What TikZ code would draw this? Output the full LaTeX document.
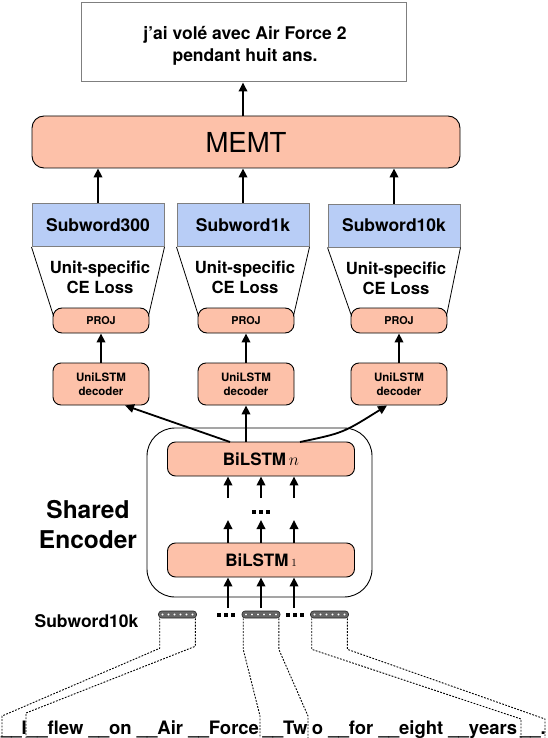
\documentclass[tikz,border=0pt]{standalone}
\usepackage{fontspec}
\setmainfont{TeX Gyre Heros}
\usetikzlibrary{arrows.meta,calc}
\definecolor{salmon}{HTML}{FDC1A9}
\definecolor{lblue}{HTML}{B8CDF6}
\definecolor{boxgray}{HTML}{7F7F7F}
\newcommand{\myfs}[2]{\fontsize{#1}{#2}\selectfont}
\begin{document}
\begin{tikzpicture}[x=1pt,y=-1pt,
  sal/.style={draw=black, line width=0.9pt, fill=salmon, inner sep=0pt, align=center},
  outbox/.style={draw=boxgray, line width=1pt, fill=white, minimum width=325, minimum height=79, align=center, inner sep=0pt},
  sub/.style={draw=boxgray, line width=1pt, fill=lblue, minimum width=132, minimum height=43, inner sep=0pt, font=\bfseries\myfs{17.5}{20}},
  projbox/.style={sal, rounded corners=9, minimum width=96, minimum height=25, font=\bfseries\myfs{10.8}{12}},
  unibox/.style={sal, rounded corners=8, minimum width=96, minimum height=42, font=\bfseries\myfs{11.5}{14}},
  bilbox/.style={sal, rounded corners=8, minimum width=187, minimum height=34, font=\bfseries\myfs{17}{20}},
  losstext/.style={align=center, font=\bfseries\myfs{16.7}{20}, inner sep=0pt},
  arr/.style={-{Triangle[length=9pt,width=8.5pt]}, line width=1.8pt},
  dsh/.style={line width=0.9pt, dash pattern=on 1.8pt off 1.4pt},
  emb/.style={draw=black!85, line width=0.6pt, fill=black!60, rounded corners=3, minimum width=38, minimum height=7, inner sep=0pt,
    path picture={\foreach \i in {-2.5,-1.5,...,2.5} \filldraw[fill=white,draw=black!70,line width=0.3pt] ($(path picture bounding box.center)+(\i*6pt,0pt)$) circle (1.6pt);}},
  word/.style={anchor=base, inner sep=0pt, font=\bfseries\myfs{18.5}{20}}
]
\useasboundingbox (0,0) rectangle (548,738);

% output
\node[outbox] (out) at (243.5,42.5) {};
\node[align=center, inner sep=0pt, font=\bfseries\myfs{17.5}{22}] (outtxt) at (245,46) {j’ai volé avec Air Force 2\\pendant huit ans.};
\node[sal, rounded corners=12, minimum width=428, minimum height=52, font=\myfs{27.5}{30}] (memt) at (246,142) {MEMT};
\coordinate (topa) at (243,116.5);
\draw[arr] (topa) -- (topa |- out.south);

% subword boxes
\node[sub] (s300) at (98,225) {Subword300};
\node[sub] (s1k) at (243,225) {Subword1k};
\node[sub] (s10k) at (394,225.5) {Subword10k};
\foreach \s in {s300,s1k,s10k} \draw[arr] (\s.north) -- (\s.north |- memt.south);

% proj and decoders
\node[projbox] (p300) at (101,320.5) {PROJ};
\node[projbox] (p1k) at (246,320.5) {PROJ};
\node[projbox] (p10k) at (399,320.5) {PROJ};
\node[unibox] (u300) at (101,384) {UniLSTM\\decoder};
\node[unibox] (u1k) at (246,384) {UniLSTM\\decoder};
\node[unibox] (u10k) at (399,384) {UniLSTM\\decoder};
\node[losstext] (l300) at (100,277) {Unit-specific\\CE Loss};
\node[losstext] (l1k) at (245,277) {Unit-specific\\CE Loss};
\node[losstext] (l10k) at (396,278) {Unit-specific\\CE Loss};
\foreach \s/\p/\u in {s300/p300/u300,s1k/p1k/u1k,s10k/p10k/u10k}{
  \draw[line width=0.8pt] (\s.south west) -- ($(\p.west)+(1,-4.5)$);
  \draw[line width=0.8pt] (\s.south east) -- ($(\p.east)+(-1,-4.5)$);
  \draw[arr] (\u.north) -- (\p.south);
}

% encoder
\node[draw, line width=0.9pt, rounded corners=28, minimum width=225, minimum height=169, inner sep=0pt] (enc) at (259.5,512.5) {};
\node[align=center, font=\bfseries\myfs{24.5}{30}, inner sep=0pt] (enclab) at (88,525) {Shared\\Encoder};
\node[bilbox] (bn) at (261,459) {BiLSTM\,$n$};
\node[bilbox] (b1) at (261,560) {BiLSTM\,{\myfs{11}{12}$1$}};

\foreach \x [count=\i] in {228,261,294}{
  \coordinate (ua\i) at (\x,498);
  \coordinate (la\i) at (\x,520);
  \coordinate (ba\i) at (\x,608);
  \draw[arr] (ua\i) -- (ua\i |- bn.south);
  \draw[arr] (la\i |- b1.north) -- (la\i);
  \draw[arr] (ba\i) -- (ba\i |- b1.south);
}
% dots
\coordinate (d0) at (261,512);
\coordinate (d1) at (226,615);
\coordinate (d2) at (295,615);
\foreach \d in {d0,d1,d2}
  \foreach \dx in {-7,0,7}
    \fill ($(\d)+(\dx-1.6,-1.6)$) rectangle +(3.2,3.2);

% encoder to decoders
\coordinate (e1) at (230,442);
\coordinate (e2) at (246,442);
\coordinate (e3) at (300,442);
\draw[arr] (e1) -- ($(u300.south)+(24,0)$);
\draw[arr] (e2) -- (u1k.south);
\draw[arr] (e3) .. controls (343,433) .. ($(u10k.south)+(-12,0)$);

% embeddings
\node[font=\bfseries\myfs{17.5}{20}, inner sep=0pt] (swlab) at (86.5,621) {Subword10k};
\node[emb] (w1) at (177.5,614.5) {};
\node[emb] (w2) at (261,614.5) {};
\node[emb] (w3) at (329.5,614.5) {};

% words
\node[word] (t1) at (14,734) {\_\_I};
\node[word] (t2) at (143,734) {\_\_flew \_\_on \_\_Air \_\_Force};
\node[word] (t3) at (285,734) {\_\_Tw};
\node[word] (t4) at (414.5,734) {o \_\_for \_\_eight \_\_years};
\node[word] (t5) at (533,734) {\_\_.};

% dashed links
\draw[dsh] ($(w1.south west)+(1.5,0)$) -- ++(0,30) -- (2,716) -- (2,738);
\draw[dsh] ($(w1.south east)+(-1.5,0)$) -- ++(0,28) -- (26,713) -- (26,738);
\draw[dsh] ($(w2.south west)+(1.5,0)$) -- ++(0,31) -- (260,716) -- (260,738);
\draw[dsh] ($(w2.south east)+(-1.5,0)$) -- ++(0,31) -- (308,716) -- (308,738);
\draw[dsh] ($(w3.south west)+(1.5,0)$) -- ++(0,31) -- (521,719) -- (521,738);
\draw[dsh] ($(w3.south east)+(-1.5,0)$) -- ++(0,31) -- (545,719) -- (545,738);
\end{tikzpicture}
\end{document}
